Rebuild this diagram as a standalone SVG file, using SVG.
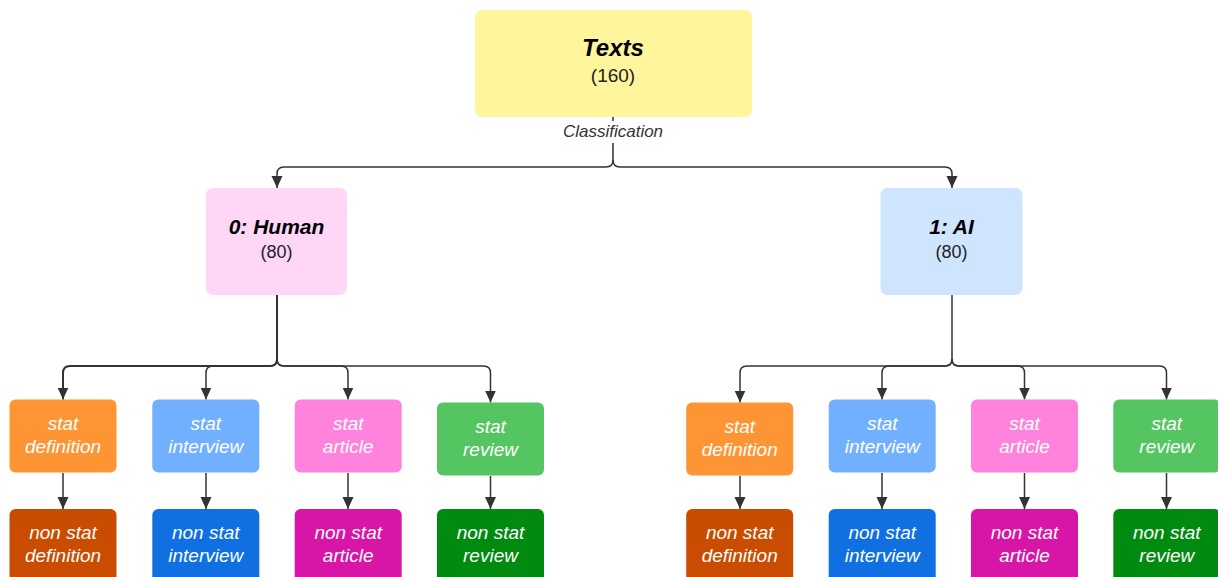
<svg xmlns="http://www.w3.org/2000/svg" width="1218" height="577" viewBox="0 0 1218 577">
<style>
.box{stroke:none}
.t{font-family:"Liberation Sans",Arial,sans-serif;text-anchor:middle}
.title{font-weight:bold;font-style:italic;fill:#000}
.cnt{fill:#222}
.leaf{font-style:italic;font-size:19px;fill:#fff}
.edge{fill:none;stroke:#333;stroke-width:1.5}
.lbl{font-family:"Liberation Sans",Arial,sans-serif;font-style:italic;font-size:17px;fill:#333;text-anchor:middle}
</style>
<defs>
<marker id="ah" markerWidth="12" markerHeight="12" refX="12" refY="5.5" orient="auto" markerUnits="userSpaceOnUse">
<path d="M0,0 L12,5.5 L0,11 Z" fill="#333"/>
</marker>
</defs>
<rect width="1218" height="577" fill="#fff"/>
<g id="connectors">
<path class="edge" d="M613,117 V160 Q613,167 606,167 H284 Q277,167 277,174 V188" marker-end="url(#ah)"/>
<path class="edge" d="M613,160 Q613,167 620,167 H945 Q952,167 952,174 V188" marker-end="url(#ah)"/>
<rect x="556" y="121" width="114" height="22" fill="#fff"/>
<text class="lbl" x="613" y="137">Classification</text>
<path class="edge" style="stroke-width:2" d="M277,295 V359 Q277,366 270,366 H70 Q63,366 63,373 V399.5" marker-end="url(#ah)"/>
<path class="edge" d="M277,359 Q277,366 270,366 H213 Q206,366 206,373 V399.5" marker-end="url(#ah)"/>
<path class="edge" d="M277,359 Q277,366 284,366 H341 Q348,366 348,373 V399.5" marker-end="url(#ah)"/>
<path class="edge" d="M277,359 Q277,366 284,366 H483.5 Q490.5,366 490.5,373 V402.5" marker-end="url(#ah)"/>
<path class="edge" d="M952,295 V359 Q952,366 945,366 H747 Q740,366 740,373 V402.5" marker-end="url(#ah)"/>
<path class="edge" d="M952,359 Q952,366 945,366 H889 Q882,366 882,373 V399.5" marker-end="url(#ah)"/>
<path class="edge" d="M952,359 Q952,366 959,366 H1017.5 Q1024.5,366 1024.5,373 V399.5" marker-end="url(#ah)"/>
<path class="edge" d="M952,359 Q952,366 959,366 H1159.5 Q1166.5,366 1166.5,373 V399.5" marker-end="url(#ah)"/>
<path class="edge" d="M63,473 V509" marker-end="url(#ah)"/>
<path class="edge" d="M206,473 V509" marker-end="url(#ah)"/>
<path class="edge" d="M348,473 V509" marker-end="url(#ah)"/>
<path class="edge" d="M490.5,476 V509" marker-end="url(#ah)"/>
<path class="edge" d="M740,476 V509" marker-end="url(#ah)"/>
<path class="edge" d="M882,473 V509" marker-end="url(#ah)"/>
<path class="edge" d="M1024.5,473 V509" marker-end="url(#ah)"/>
<path class="edge" d="M1166.5,473 V509" marker-end="url(#ah)"/>
</g>
<g id="texts">
<rect class="box" x="475" y="10" width="277" height="107" rx="7" fill="#fff59d"/>
<text class="t title" x="613" y="56" font-size="24">Texts</text>
<text class="t cnt" x="613" y="82" font-size="19">(160)</text>
</g>
<g id="human">
<rect class="box" x="206" y="188" width="141" height="107" rx="7" fill="#ffd6f6"/>
<text class="t title" x="276.5" y="234" font-size="21">0: Human</text>
<text class="t cnt" x="276.5" y="258" font-size="18">(80)</text>
</g>
<g id="ai">
<rect class="box" x="880.5" y="188" width="142" height="107" rx="7" fill="#cfe4ff"/>
<text class="t title" x="951.5" y="234" font-size="21">1: AI</text>
<text class="t cnt" x="951.5" y="258" font-size="18">(80)</text>
</g>
<g id="h-stat-definition">
<rect x="9.5" y="399.5" width="107" height="73" rx="6" fill="#fd9535"/>
<text class="t leaf" x="63" y="429.5">stat</text><text class="t leaf" x="63" y="452.5">definition</text>
</g>
<g id="h-stat-interview">
<rect x="152.3" y="399.5" width="107" height="73" rx="6" fill="#71b0ff"/>
<text class="t leaf" x="205.8" y="429.5">stat</text><text class="t leaf" x="205.8" y="452.5">interview</text>
</g>
<g id="h-stat-article">
<rect x="294.7" y="399.5" width="107" height="73" rx="6" fill="#ff82dd"/>
<text class="t leaf" x="348.2" y="429.5">stat</text><text class="t leaf" x="348.2" y="452.5">article</text>
</g>
<g id="h-stat-review">
<rect x="437" y="402.5" width="107" height="73" rx="6" fill="#55c562"/>
<text class="t leaf" x="490.5" y="432.5">stat</text><text class="t leaf" x="490.5" y="455.5">review</text>
</g>
<g id="h-non-stat-definition">
<rect x="9.5" y="509" width="107" height="80" rx="6" fill="#c94c00"/>
<text class="t leaf" x="63" y="539">non stat</text><text class="t leaf" x="63" y="562">definition</text>
</g>
<g id="h-non-stat-interview">
<rect x="152.3" y="509" width="107" height="80" rx="6" fill="#1070e2"/>
<text class="t leaf" x="205.8" y="539">non stat</text><text class="t leaf" x="205.8" y="562">interview</text>
</g>
<g id="h-non-stat-article">
<rect x="294.7" y="509" width="107" height="80" rx="6" fill="#d716a7"/>
<text class="t leaf" x="348.2" y="539">non stat</text><text class="t leaf" x="348.2" y="562">article</text>
</g>
<g id="h-non-stat-review">
<rect x="437" y="509" width="107" height="80" rx="6" fill="#008a10"/>
<text class="t leaf" x="490.5" y="539">non stat</text><text class="t leaf" x="490.5" y="562">review</text>
</g>
<g id="a-stat-definition">
<rect x="686.2" y="402.5" width="107" height="73" rx="6" fill="#fd9535"/>
<text class="t leaf" x="739.7" y="432.5">stat</text><text class="t leaf" x="739.7" y="455.5">definition</text>
</g>
<g id="a-stat-interview">
<rect x="828.7" y="399.5" width="107" height="73" rx="6" fill="#71b0ff"/>
<text class="t leaf" x="882.2" y="429.5">stat</text><text class="t leaf" x="882.2" y="452.5">interview</text>
</g>
<g id="a-stat-article">
<rect x="971" y="399.5" width="107" height="73" rx="6" fill="#ff82dd"/>
<text class="t leaf" x="1024.5" y="429.5">stat</text><text class="t leaf" x="1024.5" y="452.5">article</text>
</g>
<g id="a-stat-review">
<rect x="1113.3" y="399.5" width="107" height="73" rx="6" fill="#55c562"/>
<text class="t leaf" x="1166.8" y="429.5">stat</text><text class="t leaf" x="1166.8" y="452.5">review</text>
</g>
<g id="a-non-stat-definition">
<rect x="686.2" y="509" width="107" height="80" rx="6" fill="#c94c00"/>
<text class="t leaf" x="739.7" y="539">non stat</text><text class="t leaf" x="739.7" y="562">definition</text>
</g>
<g id="a-non-stat-interview">
<rect x="828.7" y="509" width="107" height="80" rx="6" fill="#1070e2"/>
<text class="t leaf" x="882.2" y="539">non stat</text><text class="t leaf" x="882.2" y="562">interview</text>
</g>
<g id="a-non-stat-article">
<rect x="971" y="509" width="107" height="80" rx="6" fill="#d716a7"/>
<text class="t leaf" x="1024.5" y="539">non stat</text><text class="t leaf" x="1024.5" y="562">article</text>
</g>
<g id="a-non-stat-review">
<rect x="1113.3" y="509" width="107" height="80" rx="6" fill="#008a10"/>
<text class="t leaf" x="1166.8" y="539">non stat</text><text class="t leaf" x="1166.8" y="562">review</text>
</g>
</svg>
